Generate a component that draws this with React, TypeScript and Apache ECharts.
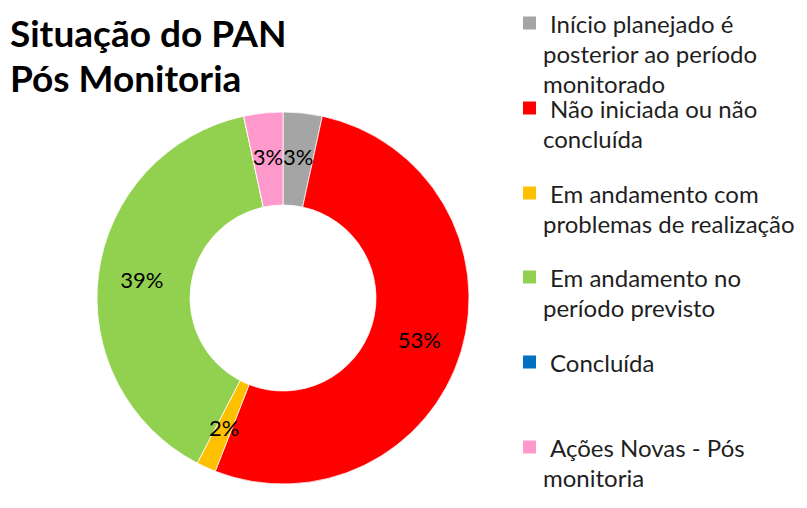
import React, { useEffect, useRef } from "react";
import * as echarts from "echarts";

const categories = [
  "Início planejado é posterior ao período monitorado",
  "Não iniciada ou não concluída",
  "Em andamento com problemas de realização",
  "Em andamento no período previsto",
  "Concluída",
  "Ações Novas - Pós monitoria",
];
const legendLines = [
  ["Início planejado é", "posterior ao período", "monitorado"],
  ["Não iniciada ou não", "concluída"],
  ["Em andamento com", "problemas de realização"],
  ["Em andamento no", "período previsto"],
  ["Concluída"],
  ["Ações Novas - Pós", "monitoria"],
];
const values = [2, 31, 1, 23, 0, 2];
const colors = ["#A5A5A5", "#FF0000", "#FFC000", "#92D050", "#0070C0", "#FF99CC"];
const titleText = "Situação do PAN\nPós Monitoria";

const FONT = "Lato";
const LH = 30;
const LEGEND_FS = 24;
const legendCenters = [23, 108, 193, 277, 362, 447];

export default function App() {
  const ref = useRef<HTMLDivElement>(null);
  useEffect(() => {
    if (!ref.current) return;
    const chart = echarts.init(ref.current, undefined, { renderer: "svg" });
    const legends = categories.map((name, i) => {
      const n = legendLines[i].length;
      const h = n * LH;
      return {
        orient: "vertical",
        left: 523,
        top: legendCenters[i] - LH / 2,
        padding: 0,
        itemWidth: 13,
        itemHeight: h,
        selectedMode: false,
        itemStyle: { borderWidth: 0 },
        data: [
          {
            name,
            icon: `path://M0,${(LH - 13) / 2}h13v13h-13zM0,0M13,${h}`,
          },
        ],
        formatter: (nm: string) => {
          const idx = categories.indexOf(nm);
          return legendLines[idx]
            .map((l, k) => (k === 0 ? `{f|${l}}` : `{r|${l}}`))
            .join("\n");
        },
        textStyle: {
          fontFamily: FONT,
          fontSize: LEGEND_FS,
          lineHeight: LH,
          color: "#1f1f1f",
          rich: {
            f: { fontFamily: FONT, fontSize: LEGEND_FS, lineHeight: LH, color: "#1f1f1f", padding: [0, 0, 0, 9] },
            r: { fontFamily: FONT, fontSize: LEGEND_FS, lineHeight: LH, color: "#1f1f1f", padding: [0, 0, 0, 2] },
          },
        },
      };
    });
    chart.setOption({
      animation: false,
      backgroundColor: "#fff",
      color: colors,
      title: {
        text: titleText,
        left: 10,
        top: 10,
        padding: 0,
        textStyle: {
          fontFamily: FONT,
          fontSize: 37,
          fontWeight: "bold",
          lineHeight: 45,
          color: "#000",
        },
      },
      legend: legends,
      series: [
        {
          type: "pie",
          center: [283, 298],
          radius: [93, 186],
          startAngle: 90,
          clockwise: true,
          avoidLabelOverlap: false,
          itemStyle: { borderColor: "#fff", borderWidth: 0.75 },
          emphasis: { disabled: true },
          label: {
            show: true,
            position: "inside",
            fontFamily: FONT,
            fontSize: 22,
            color: "#000",
            formatter: (p: any) => (p.value > 0 ? Math.round(p.percent) + "%" : ""),
          },
          labelLine: { show: false },
          data: categories.map((name, i) => ({
            name,
            value: values[i],
            itemStyle: { color: colors[i] },
          })),
        },
      ],
    });
    return () => chart.dispose();
  }, []);
  return (
    <div
      ref={ref}
      style={{ position: "fixed", left: 0, top: 0, width: 807, height: 508, background: "#fff" }}
    />
  );
}
